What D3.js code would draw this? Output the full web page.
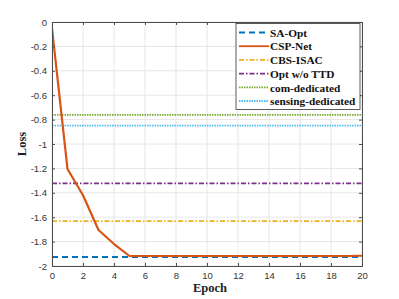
<!DOCTYPE html>
<html><head><meta charset="utf-8">
<script src="https://cdn.jsdelivr.net/npm/d3@7"></script>
<style>body{margin:0;background:#fff}svg{display:block}</style>
</head><body><svg id="c" width="399" height="299"></svg>
<script>
const epochs = [0,1,2,3,4,5,6,7,8,9,10,11,12,13,14,15,16,17,18,19,20];
const cspNet = [-0.05,-1.205,-1.42,-1.705,-1.82,-1.918,-1.918,-1.918,-1.918,-1.918,-1.918,-1.918,-1.918,-1.918,-1.918,-1.918,-1.918,-1.918,-1.918,-1.918,-1.916];
const seriesNames = ["SA-Opt","CSP-Net","CBS-ISAC","Opt w/o TTD","com-dedicated","sensing-dedicated"];
const constValues = {"SA-Opt":-1.926,"CBS-ISAC":-1.632,"Opt w/o TTD":-1.322,"com-dedicated":-0.762,"sensing-dedicated":-0.85};
const colors = ["#0072BD","#D95319","#EDB120","#7E2F8E","#77AC30","#4DBEEE"];
const dashes = ["6,4","none","5,2,1.5,2","5,2,1.5,2","1.5,1","1.5,1"];
const widths = [2,2.2,1.8,1.8,1.8,1.8];
const xTicks = [0,2,4,6,8,10,12,14,16,18,20];
const yTicks = [0,-0.2,-0.4,-0.6,-0.8,-1,-1.2,-1.4,-1.6,-1.8,-2];

const svg = d3.select("#c");
const L=52,R=362,T=22,B=266;
const x = d3.scaleLinear().domain([0,20]).range([L,R]);
const y = d3.scaleLinear().domain([-2,0]).range([B,T]);

// grid
svg.append("g").selectAll("line").data(xTicks).join("line")
  .attr("x1",d=>x(d)).attr("x2",d=>x(d)).attr("y1",T).attr("y2",B)
  .attr("stroke","#e6e6e6").attr("stroke-width",1);
svg.append("g").selectAll("line").data(yTicks).join("line")
  .attr("x1",L).attr("x2",R).attr("y1",d=>y(d)).attr("y2",d=>y(d))
  .attr("stroke","#e6e6e6").attr("stroke-width",1);

svg.append("clipPath").attr("id","clip").append("rect")
  .attr("x",L).attr("y",T-2).attr("width",R-L).attr("height",B-T+2);
const plot = svg.append("g").attr("clip-path","url(#clip)");

const line = d3.line().x(d=>x(d[0])).y(d=>y(d[1]));
seriesNames.forEach((n,i)=>{
  if(n==="CSP-Net") return;
  const data = [[0,constValues[n]],[20,constValues[n]]];
  plot.append("path").attr("d",line(data)).attr("fill","none")
    .attr("stroke",colors[i]).attr("stroke-width",widths[i])
    .attr("stroke-dasharray",dashes[i]);
});
plot.append("path").attr("d",line(epochs.map((e,i)=>[e,cspNet[i]]))).attr("fill","none")
  .attr("stroke",colors[1]).attr("stroke-width",widths[1]).attr("stroke-linejoin","round");

// axes
const axCol="#4d4d4d";
const xa = svg.append("g").attr("transform",`translate(0,${B})`)
  .call(d3.axisBottom(x).tickValues(xTicks).tickSize(-3).tickPadding(6).tickFormat(d3.format("d")));
const xt = svg.append("g").attr("transform",`translate(0,${T})`)
  .call(d3.axisTop(x).tickValues(xTicks).tickSize(-3).tickFormat(""));
const ya = svg.append("g").attr("transform",`translate(${L},0)`)
  .call(d3.axisLeft(y).tickValues(yTicks).tickSize(-3).tickPadding(5).tickFormat(d=>d===0?"0":String(+d.toFixed(1))));
const yr = svg.append("g").attr("transform",`translate(${R},0)`)
  .call(d3.axisRight(y).tickValues(yTicks).tickSize(-3).tickFormat(""));
[xa,xt,ya,yr].forEach(g=>{
  g.selectAll("path,line").attr("stroke",axCol);
  g.selectAll("text").attr("fill","#333").style("font-family","Liberation Sans, Arial, sans-serif").style("font-size","9.5px");
});

// axis titles
svg.append("text").attr("x",(L+R)/2+3).attr("y",292).attr("text-anchor","middle")
  .style("font-family","Liberation Serif, Times New Roman, serif").style("font-weight","bold").style("font-size","12.5px")
  .attr("fill","#222").text("Epoch");
svg.append("text").attr("transform","translate(26,144) rotate(-90)").attr("text-anchor","middle")
  .style("font-family","Liberation Serif, Times New Roman, serif").style("font-weight","bold").style("font-size","12.5px")
  .attr("fill","#222").text("Loss");

// legend
const lg = svg.append("g");
lg.append("rect").attr("x",236).attr("y",23.5).attr("width",124).attr("height",86)
  .attr("fill","#fff").attr("stroke","#333").attr("stroke-width",0.8);
seriesNames.forEach((n,i)=>{
  const yy = 32.5 + i*13.7;
  lg.append("line").attr("x1",239).attr("x2",269).attr("y1",yy).attr("y2",yy)
    .attr("stroke",colors[i]).attr("stroke-width",Math.min(widths[i],1.8)).attr("stroke-dasharray",dashes[i]);
  lg.append("text").attr("x",270).attr("y",yy+4.2)
    .style("font-family","Liberation Serif, Times New Roman, serif").style("font-weight","bold").style("font-size","11.3px")
    .attr("fill","#111").text(n);
});
</script></body></html>
